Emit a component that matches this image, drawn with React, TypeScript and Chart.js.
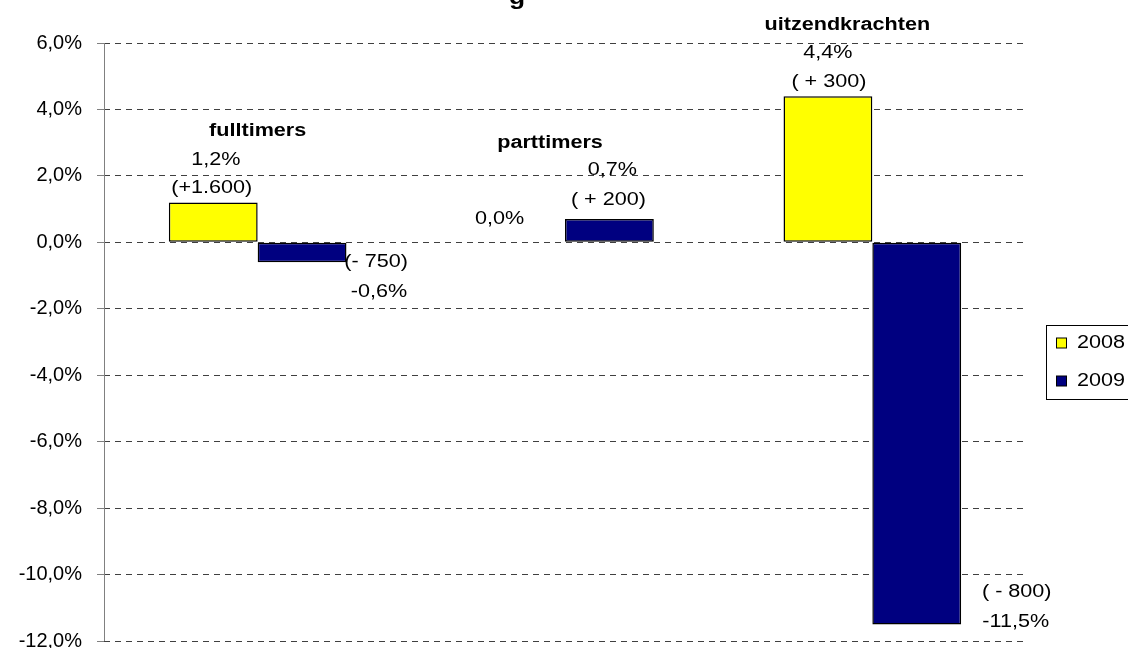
import React, { useEffect, useRef } from "react";
import { Chart, registerables } from "chart.js";

Chart.register(...registerables);

// ---- data ----
const categories = ["fulltimers", "parttimers", "uitzendkrachten"];
const seriesNames = ["2008", "2009"];
const values2008 = [1.2, 0.0, 4.4];
const values2009 = [-0.6, 0.7, -11.5];
const counts2008 = ["(+1.600)", "", "( + 300)"];
const counts2009 = ["(- 750)", "( + 200)", "( - 800)"];
const yTickValues = [6, 4, 2, 0, -2, -4, -6, -8, -10, -12];
const titleText = "g";

// ---- styles / layout (not data) ----
const COLORS = ["#FFFF00", "#000080"];
const FONT_FAMILY = '"Liberation Sans", Arial, sans-serif';
const STRETCH = 1.2;

// label placement relative to the bar end (pixel offsets)
const labelPlacement = [
  { ds: 0, i: 0, kind: "pct", dx: 2.5, dy: -42 },
  { ds: 0, i: 0, kind: "count", dx: -1.5, dy: -14 },
  { ds: 1, i: 0, kind: "count", dx: 74, dy: 0 },
  { ds: 1, i: 0, kind: "pct", dx: 77, dy: 30 },
  { ds: 0, i: 1, kind: "pct", dx: -21, dy: -23 },
  { ds: 1, i: 1, kind: "pct", dx: 3, dy: -49 },
  { ds: 1, i: 1, kind: "count", dx: -1, dy: -19 },
  { ds: 0, i: 2, kind: "pct", dx: 0, dy: -43 },
  { ds: 0, i: 2, kind: "count", dx: 1, dy: -14 },
  { ds: 1, i: 2, kind: "count", dx: 100, dy: -32 },
  { ds: 1, i: 2, kind: "pct", dx: 99, dy: -2 },
];
// category headings relative to category centre and highest bar end
const headingPlacement = [
  { dx: 0, dy: -71 },
  { dx: -15, dy: -76 },
  { dx: -25, dy: -71 },
];

const fmtPct = (v: number) => v.toFixed(1).replace(".", ",") + "%";

function drawText(
  ctx: CanvasRenderingContext2D,
  text: string,
  x: number,
  y: number,
  size: number,
  bold: boolean,
  align: CanvasTextAlign = "center",
  baseline: CanvasTextBaseline = "middle"
) {
  ctx.save();
  ctx.translate(x, y);
  ctx.scale(STRETCH, 1);
  ctx.font = `${bold ? "bold " : ""}${size}px ${FONT_FAMILY}`;
  ctx.fillStyle = "#000";
  ctx.textAlign = align;
  ctx.textBaseline = baseline;
  ctx.fillText(text, 0, 0);
  ctx.restore();
}

const labelsPlugin = {
  id: "customLabels",
  afterDatasetsDraw(chart: any) {
    const ctx: CanvasRenderingContext2D = chart.ctx;
    const counts = [counts2008, counts2009];
    const vals = [values2008, values2009];
    const ca = chart.chartArea;
    // solid value axis line
    ctx.save();
    ctx.strokeStyle = "#808080";
    ctx.lineWidth = 1;
    ctx.setLineDash([]);
    ctx.beginPath();
    ctx.moveTo(Math.round(ca.left) + 0.5, ca.top);
    ctx.lineTo(Math.round(ca.left) + 0.5, ca.bottom);
    ctx.stroke();
    ctx.restore();

    labelPlacement.forEach((p) => {
      const el = chart.getDatasetMeta(p.ds).data[p.i];
      const text = p.kind === "pct" ? fmtPct(vals[p.ds][p.i]) : counts[p.ds][p.i];
      if (!text) return;
      drawText(ctx, text, el.x + p.dx, el.y + p.dy, 18, false);
    });
    const xScale = chart.scales.x;
    const yScale = chart.scales.y;
    categories.forEach((c, i) => {
      const top = Math.max(values2008[i], values2009[i]);
      const x = xScale.getPixelForValue(i) + headingPlacement[i].dx;
      const y = yScale.getPixelForValue(top) + headingPlacement[i].dy;
      drawText(ctx, c, x, y, 18, true);
    });
    // title (mostly outside the visible area)
    drawText(ctx, titleText, chart.width / 2 - 47, 4, 22, true, "center", "alphabetic");
    // legend
    const lx = ca.right + 20.5;
    const ly = 325.5;
    ctx.save();
    ctx.setLineDash([]);
    ctx.strokeStyle = "#000";
    ctx.lineWidth = 1;
    ctx.strokeRect(lx, ly, 140, 74);
    seriesNames.forEach((s, k) => {
      const cy = ly + 17.5 + k * 38;
      ctx.fillStyle = COLORS[k];
      ctx.fillRect(lx + 10, cy - 5, 10, 10);
      ctx.strokeStyle = "#000";
      ctx.strokeRect(lx + 10, cy - 5, 10, 10);
      drawText(ctx, s, lx + 30.5, cy, 18, false, "left", "middle");
    });
    ctx.restore();
  },
};

export default function App() {
  const ref = useRef<HTMLCanvasElement | null>(null);
  useEffect(() => {
    document.body.style.margin = "0";
    const canvas = ref.current!;
    const chart = new Chart(canvas, {
      type: "bar",
      data: {
        labels: categories,
        datasets: [
          {
            label: seriesNames[0],
            data: values2008,
            backgroundColor: COLORS[0],
            borderColor: "#000",
            borderWidth: 1.5,
            borderSkipped: false,
          },
          {
            label: seriesNames[1],
            data: values2009,
            backgroundColor: COLORS[1],
            borderColor: "#000",
            borderWidth: 1.5,
            borderSkipped: false,
          },
        ],
      },
      options: {
        responsive: false,
        animation: false,
        devicePixelRatio: 1,
        layout: { padding: { left: 0, right: 102, top: 43, bottom: 29 } },
        datasets: { bar: { barPercentage: 1, categoryPercentage: 0.578 } },
        plugins: {
          legend: { display: false },
          tooltip: { enabled: false },
          title: { display: false },
        },
        scales: {
          x: { display: false },
          y: {
            min: -12,
            max: 6,
            afterFit: (scale: any) => {
              scale.width = 104;
            },
            afterBuildTicks: (scale: any) => {
              scale.ticks = yTickValues.map((v) => ({ value: v }));
            },
            ticks: {
              color: "#000",
              padding: 15,
              font: { family: FONT_FAMILY, size: 20 },
              callback: (v: any) => fmtPct(Number(v)),
            },
            grid: {
              color: "#404040",
              tickColor: "#808080",
              tickBorderDash: [],
              tickLength: 7,
              lineWidth: 1,
            },
            border: { display: false, dash: [6, 5] },
          },
        },
      },
      plugins: [labelsPlugin],
    } as any);
    return () => chart.destroy();
  }, []);
  return (
    <div
      style={{
        position: "absolute",
        left: 0,
        top: 0,
        width: 1128,
        height: 648,
        overflow: "hidden",
        background: "#fff",
      }}
    >
      <canvas ref={ref} width={1128} height={670} style={{ width: 1128, height: 670, display: "block" }} />
    </div>
  );
}
